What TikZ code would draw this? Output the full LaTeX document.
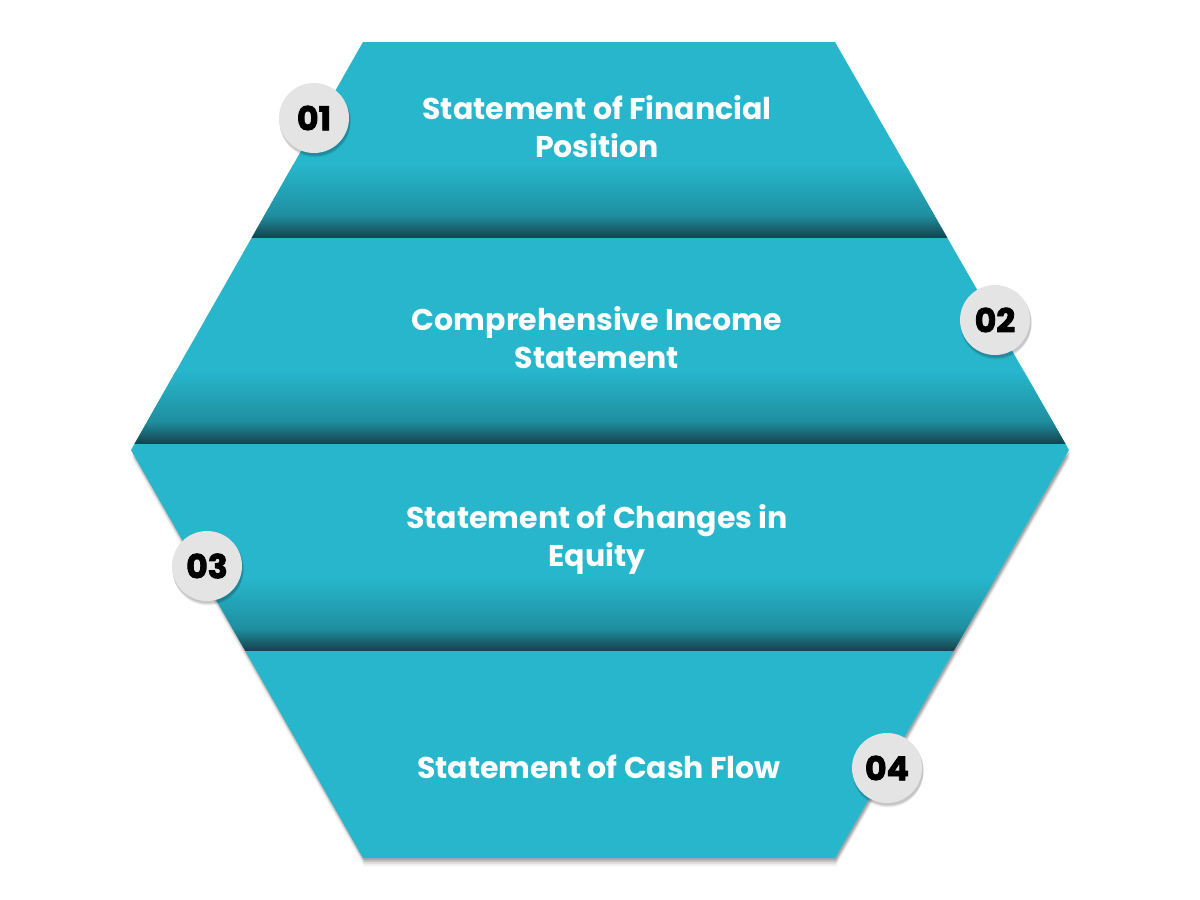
\documentclass[tikz,border=0pt]{standalone}
\usepackage{fontspec}
\setmainfont{Poppins}
\newfontfamily\numfont[FakeBold=2.5]{Poppins Bold}
\definecolor{tealA}{HTML}{27B6CC}
\definecolor{tealB}{HTML}{1F8FA0}
\definecolor{tealC}{HTML}{15444F}
\definecolor{disc}{HTML}{E4E4E4}
\tikzset{
  lbl/.style={text=white, align=center, font=\bfseries\fontsize{30}{38}\selectfont},
  numc/.style={circle, fill=disc, minimum size=70pt, inner sep=0pt, text=black, font=\numfont\fontsize{33}{33}\selectfont},
  shad/.style={fill=black, opacity=#1},
}
\begin{document}
\begin{tikzpicture}[x=1pt,y=-1pt]
\useasboundingbox (0,0) rectangle (1200,900);
\def\hexpath{(363,42) -- (835,42) -- (1069,450) -- (835,858) -- (363,858) -- (131,450) -- cycle}
% shadow of the lower half
\foreach \o/\a in {8/0.05,6/0.08,4/0.12,2/0.15}{
  \fill[shad=\a, shift={(1,\o)}] (131,450) -- (363,858) -- (835,858) -- (1069,450) -- cycle;
}
\begin{scope}
\clip \hexpath;
\fill[tealA] (0,40) rectangle (1200,860);
% band 1
\shade[top color=tealA, bottom color=tealB] (0,165) rectangle (1200,215);
\shade[top color=tealB, bottom color=tealC] (0,215) rectangle (1200,237);
% band 2
\shade[top color=tealA, bottom color=tealB] (0,371) rectangle (1200,421);
\shade[top color=tealB, bottom color=tealC] (0,421) rectangle (1200,443);
% band 3
\shade[top color=tealA, bottom color=tealB] (0,578) rectangle (1200,628);
\shade[top color=tealB, bottom color=tealC] (0,628) rectangle (1200,650);
\end{scope}
% labels
\node[lbl] (t1) at (597,127) {Statement of Financial\\Position};
\node[lbl] (t2) at (597,338) {Comprehensive Income\\Statement};
\node[lbl] (t3) at (597,539) {Statement of Changes in\\Equity};
\node[lbl] (t4) at (599,767) {Statement of Cash Flow};
% number discs
\foreach \p in {(314,118),(995,320),(207,566),(887,768)}{
  \foreach \o/\a in {4/0.06,3/0.08,2/0.1}{
    \fill[shad=\a, shift={(1,\o)}] \p circle (35.5);
  }
}
\node[numc] (c1) at (314,118) {01};
\node[numc] (c2) at (995,320) {02};
\node[numc] (c3) at (207,566) {03};
\node[numc] (c4) at (887,768) {04};
\end{tikzpicture}
\end{document}
